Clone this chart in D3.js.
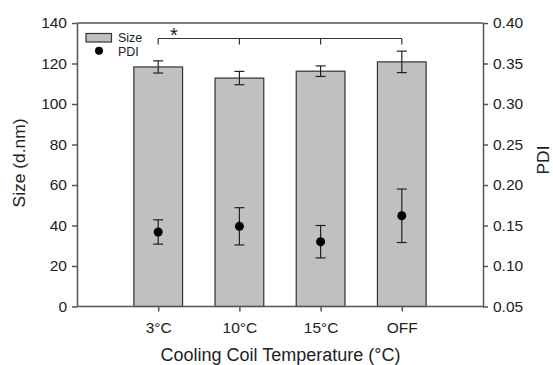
<!DOCTYPE html>
<html>
<head>
<meta charset="utf-8">
<script src="https://cdn.jsdelivr.net/npm/d3@7"></script>
<style>
  body { margin: 0; background: #fff; }
  svg { font-family: "Liberation Sans", Arial, sans-serif; }
</style>
</head>
<body>
<svg width="553" height="365"></svg>
<script>
const categories = ["3°C", "10°C", "15°C", "OFF"];
const sizeMean = [118.3, 112.8, 116.2, 120.8];
const sizeErr = [3.0, 3.3, 2.6, 5.3];
const pdiMean = [0.142, 0.149, 0.130, 0.162];
const pdiErr = [0.015, 0.023, 0.020, 0.033];
const sizeTicks = [0, 20, 40, 60, 80, 100, 120, 140];
const pdiTicks = [0.05, 0.10, 0.15, 0.20, 0.25, 0.30, 0.35, 0.40];

const plotLeft = 77, plotRight = 483, plotTop = 23, plotBottom = 306.5;
const axisColor = "#555";

const svg = d3.select("svg");

const x = d3.scalePoint().domain(categories).range([plotLeft, plotRight]).padding(1);
const barW = x.step() * 0.6;
const ySize = d3.scaleLinear().domain([0, 140]).range([plotBottom, plotTop]);
const yPdi = d3.scaleLinear().domain([0.05, 0.40]).range([plotBottom, plotTop]);

// bars
svg.append("g")
  .selectAll("rect")
  .data(sizeMean)
  .enter()
  .append("rect")
  .attr("x", (d, i) => x(categories[i]) - barW / 2)
  .attr("y", d => ySize(d))
  .attr("width", barW)
  .attr("height", d => ySize(0) - ySize(d))
  .attr("fill", "#c0c0c0")
  .attr("stroke", "#333")
  .attr("stroke-width", 1.2);

// error bars helper
function errBars(g, means, errs, scale) {
  means.forEach((m, i) => {
    const cx = x(categories[i]);
    const y1 = scale(m + errs[i]), y2 = scale(m - errs[i]);
    g.append("line").attr("x1", cx).attr("x2", cx).attr("y1", y1).attr("y2", y2);
    g.append("line").attr("x1", cx - 5).attr("x2", cx + 5).attr("y1", y1).attr("y2", y1);
    g.append("line").attr("x1", cx - 5).attr("x2", cx + 5).attr("y1", y2).attr("y2", y2);
  });
}

const eb = svg.append("g").attr("stroke", "#222").attr("stroke-width", 1.2);
errBars(eb, sizeMean, sizeErr, ySize);
errBars(eb, pdiMean, pdiErr, yPdi);

svg.append("g")
  .selectAll("circle")
  .data(pdiMean)
  .enter()
  .append("circle")
  .attr("cx", (d, i) => x(categories[i]))
  .attr("cy", d => yPdi(d))
  .attr("r", 4.5)
  .attr("fill", "#000");

// axes
const yAxisL = svg.append("g")
  .attr("transform", `translate(${plotLeft},0)`)
  .call(d3.axisLeft(ySize).tickValues(sizeTicks).tickSize(5).tickSizeOuter(0).tickPadding(5));
const yAxisR = svg.append("g")
  .attr("transform", `translate(${plotRight},0)`)
  .call(d3.axisRight(yPdi).tickValues(pdiTicks).tickFormat(d3.format(".2f")).tickSize(5).tickSizeOuter(0).tickPadding(5));
const xAxis = svg.append("g")
  .attr("transform", `translate(0,${plotBottom})`)
  .call(d3.axisBottom(x).tickSize(5).tickSizeOuter(0).tickPadding(10));
xAxis.select(".domain").attr("d", `M${plotLeft},0H${plotRight}`);

[yAxisL, yAxisR, xAxis].forEach(a => {
  a.selectAll("path,line").attr("stroke", axisColor).attr("stroke-width", 1.5);
  a.selectAll("text").attr("font-size", "15.5px").attr("fill", "#222")
    .attr("font-family", "Liberation Sans, Arial, sans-serif");
});

svg.append("line")
  .attr("x1", plotLeft).attr("x2", plotRight).attr("y1", plotTop).attr("y2", plotTop)
  .attr("stroke", axisColor).attr("stroke-width", 1.5);

// significance bracket
const brY = 38.5;
const br = svg.append("g").attr("stroke", "#333").attr("stroke-width", 1.2).attr("fill", "none");
br.append("line").attr("x1", x(categories[0])).attr("x2", x(categories[3])).attr("y1", brY).attr("y2", brY);
categories.forEach(c => {
  br.append("line").attr("x1", x(c)).attr("x2", x(c)).attr("y1", brY).attr("y2", brY + 6);
});
svg.append("text")
  .attr("x", 174)
  .attr("y", 42)
  .attr("text-anchor", "middle")
  .attr("font-size", "20px")
  .attr("fill", "#222")
  .text("*");

// legend
svg.append("rect").attr("x", 86).attr("y", 33.5).attr("width", 25.5).attr("height", 8.5)
  .attr("fill", "#c0c0c0").attr("stroke", "#333").attr("stroke-width", 1.2);
svg.append("circle").attr("cx", 99).attr("cy", 50.7).attr("r", 4).attr("fill", "#000");
svg.append("text").attr("x", 118).attr("y", 42).attr("font-size", "12.5px").attr("fill", "#222").text("Size");
svg.append("text").attr("x", 118).attr("y", 55.5).attr("font-size", "12.5px").attr("fill", "#222").text("PDI");

// titles
svg.append("text")
  .attr("transform", "translate(25,163) rotate(-90)")
  .attr("text-anchor", "middle")
  .attr("font-size", "17.4px").attr("fill", "#222")
  .text("Size (d.nm)");
svg.append("text")
  .attr("transform", "translate(549,160) rotate(-90)")
  .attr("text-anchor", "middle")
  .attr("font-size", "17.4px").attr("fill", "#222")
  .text("PDI");
svg.append("text")
  .attr("x", 280.5).attr("y", 361)
  .attr("text-anchor", "middle")
  .attr("font-size", "18px").attr("fill", "#222")
  .text("Cooling Coil Temperature (°C)");
</script>
</body>
</html>
